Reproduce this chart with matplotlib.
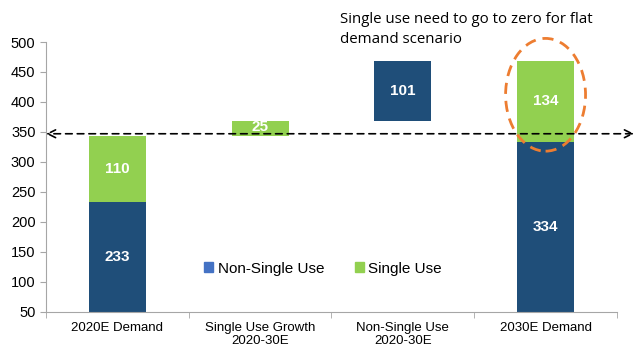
from matplotlib import pyplot as plt
from matplotlib.patches import Ellipse, Patch
import numpy as np

plt.rcParams['font.family'] = ['Liberation Sans', 'DejaVu Sans']

categories = ['2020E Demand', 'Single Use Growth\n2020-30E', 'Non-Single Use\n2020-30E', '2030E Demand']
non_single = [233, 0, 101, 334]
single = [110, 25, 0, 134]
base_non = [0, 0, 368, 0]
base_single = [233, 343, 0, 334]

navy = '#1F4E79'
green = '#92D050'
grey = '#A6A6A6'

fig = plt.figure(figsize=(6.38, 3.56), dpi=100)
ax = fig.add_axes([0.072, 0.124, 0.895, 0.758])
x = np.arange(len(categories))
w = 0.4

for i in range(len(categories)):
    if non_single[i]:
        ax.bar(x[i], non_single[i], w, bottom=base_non[i], color=navy)
        mid = base_non[i] + non_single[i] / 2
        if base_non[i] == 0:
            mid = 50 + (non_single[i] - 50) / 2
        ax.text(x[i], mid, str(non_single[i]), color='white', fontsize=11,
                fontweight='bold', ha='center', va='center')
    if single[i]:
        ax.bar(x[i], single[i], w, bottom=base_single[i], color=green)
        ax.text(x[i], base_single[i] + single[i] / 2 + (3 if single[i] < 50 else 0), str(single[i]),
                color='white', fontsize=11, fontweight='bold', ha='center', va='center')

ax.set_ylim(50, 500)
ax.set_xlim(-0.5, 3.5)
ax.set_yticks(np.arange(50, 501, 50))
ax.set_xticks(x)
ax.set_xticklabels(categories)
ax.set_xticks(np.arange(-0.5, 3.6, 1), minor=True)
ax.tick_params(axis='x', which='major', length=0, labelsize=9.5, pad=7)
ax.tick_params(axis='x', which='minor', length=4, color=grey)
ax.tick_params(axis='y', length=4, color=grey, labelsize=10.5)
for s in ['top', 'right']:
    ax.spines[s].set_visible(False)
for s in ['left', 'bottom']:
    ax.spines[s].set_color(grey)

# flat demand line
ax.annotate('', xy=(-0.5, 347), xytext=(3.62, 347), xycoords='data',
            arrowprops=dict(arrowstyle='<->', linestyle=(0, (4, 3)), color='black',
                            lw=1.2, mutation_scale=14, shrinkA=0, shrinkB=0),
            annotation_clip=False)

ell = Ellipse((3, 412), 0.56, 188, fill=False, edgecolor='#ED7D31', lw=2,
              linestyle=(0, (4, 2.5)), clip_on=False)
ax.add_patch(ell)

fig.text(0.533, 0.918, 'Single use need to go to zero for flat\ndemand scenario',
         fontsize=10.8, fontfamily='Open Sans', va='center', ha='left', linespacing=1.45)

handles = [Patch(color='#4472C4', label='Non-Single Use'), Patch(color=green, label='Single Use')]
ax.legend(handles=handles, loc='center', bbox_to_anchor=(0.485, 0.16), ncol=2, frameon=False,
          fontsize=11, handlelength=0.6, handleheight=0.6, handletextpad=0.3, columnspacing=2.0)

fig.savefig('out.png', dpi=100)
